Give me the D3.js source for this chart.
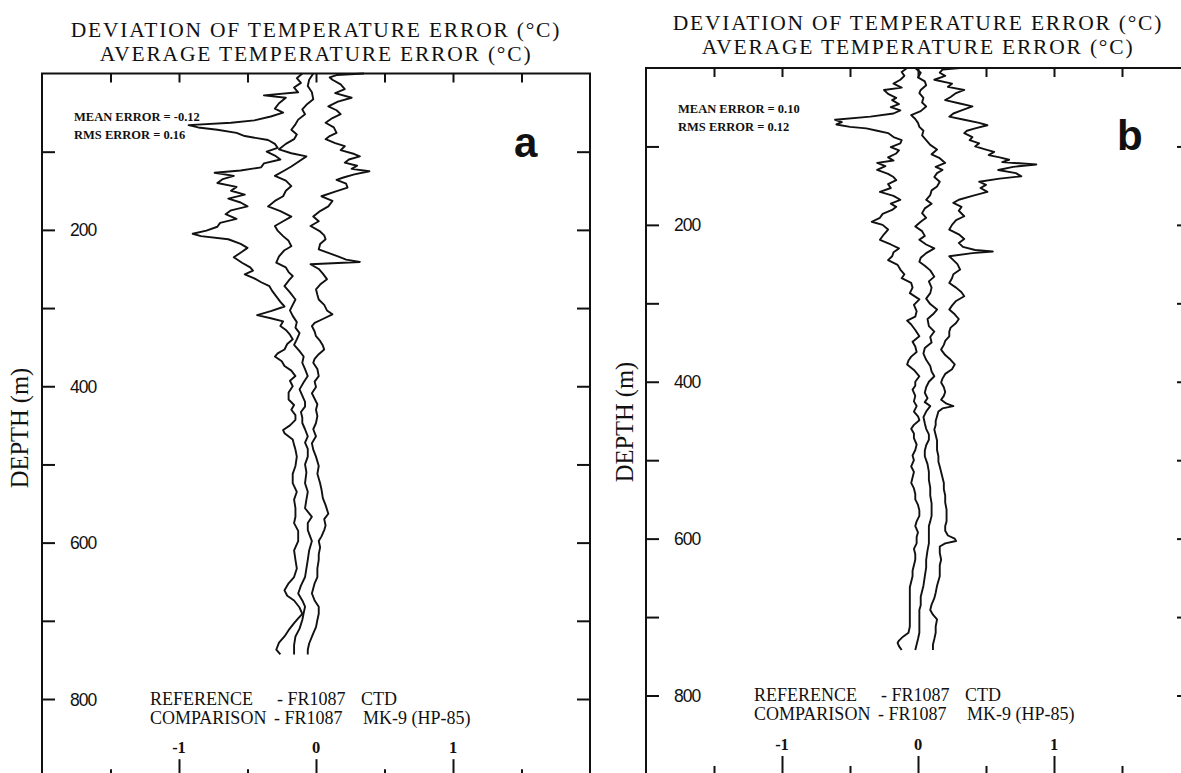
<!DOCTYPE html>
<html><head><meta charset="utf-8">
<script src="https://cdn.jsdelivr.net/npm/d3@7"></script>
<style>body{margin:0;background:#fff}svg{display:block}</style>
</head><body><svg id="c" width="1181" height="773"></svg>
<script>
// ---------------- DATA ----------------
const titleLines = ["DEVIATION OF TEMPERATURE ERROR (\u00B0C)", "AVERAGE TEMPERATURE ERROR (\u00B0C)"];
const yAxisTitle = "DEPTH (m)";
const depthLabels = [200, 400, 600, 800];
const depthTicks = [100, 200, 300, 400, 500, 600, 700, 800, 900];
const xLabels = [-1, 0, 1];
const xTicks = [-1.5, -1, -0.5, 0, 0.5, 1, 1.5];
const panelLetters = ["a", "b"];
const meanErrors = ["MEAN ERROR = -0.12", "MEAN ERROR = 0.10"];
const rmsErrors = ["RMS ERROR = 0.16", "RMS ERROR = 0.12"];
const refText = ["REFERENCE", "- FR1087", "CTD"];
const cmpText = ["COMPARISON", "- FR1087", "MK-9 (HP-85)"];

// [depth (m), temperature error (°C)]
const aLower = [[0,-0.10],[6,-0.14],[12,-0.11],[18,-0.16],[24,-0.13],[28,-0.38],[31,-0.22],[38,-0.27],[45,-0.30],[50,-0.24],[55,-0.33],[60,-0.45],[63,-0.62],[66,-0.93],[69,-0.86],[72,-0.72],[76,-0.58],[80,-0.52],[85,-0.35],[90,-0.30],[95,-0.28],[100,-0.36],[105,-0.30],[110,-0.26],[115,-0.38],[120,-0.40],[124,-0.55],[127,-0.74],[131,-0.60],[135,-0.68],[140,-0.72],[145,-0.58],[150,-0.62],[155,-0.52],[160,-0.64],[165,-0.55],[170,-0.50],[175,-0.62],[180,-0.66],[186,-0.58],[191,-0.70],[196,-0.72],[201,-0.80],[205,-0.90],[208,-0.84],[212,-0.64],[218,-0.55],[223,-0.50],[228,-0.54],[235,-0.60],[242,-0.54],[248,-0.48],[252,-0.46],[257,-0.52],[262,-0.45],[267,-0.40],[272,-0.34],[278,-0.32],[285,-0.29],[292,-0.26],[298,-0.23],[304,-0.33],[309,-0.43],[313,-0.33],[317,-0.24],[323,-0.26],[328,-0.22],[334,-0.19],[340,-0.17],[346,-0.21],[353,-0.23],[358,-0.28],[362,-0.30],[368,-0.25],[374,-0.23],[380,-0.18],[387,-0.15],[393,-0.19],[400,-0.17],[408,-0.20],[417,-0.20],[424,-0.16],[430,-0.18],[437,-0.15],[443,-0.15],[450,-0.19],[456,-0.24],[460,-0.23],[468,-0.17],[475,-0.16],[481,-0.15],[490,-0.14],[502,-0.15],[512,-0.17],[524,-0.17],[535,-0.14],[545,-0.16],[556,-0.15],[567,-0.15],[575,-0.16],[585,-0.13],[598,-0.13],[610,-0.16],[622,-0.15],[633,-0.14],[644,-0.16],[652,-0.20],[661,-0.23],[668,-0.21],[674,-0.16],[683,-0.12],[691,-0.10],[697,-0.13],[703,-0.16],[712,-0.20],[720,-0.23],[728,-0.27],[737,-0.29],[743,-0.26]];
const aMean = [[0,-0.02],[8,-0.05],[16,-0.06],[24,-0.03],[33,-0.02],[40,-0.07],[46,-0.10],[52,-0.08],[59,-0.13],[65,-0.15],[72,-0.18],[78,-0.14],[84,-0.16],[90,-0.22],[97,-0.27],[102,-0.18],[106,-0.07],[112,-0.12],[119,-0.18],[125,-0.24],[131,-0.30],[137,-0.22],[144,-0.18],[150,-0.22],[157,-0.24],[163,-0.30],[170,-0.35],[176,-0.26],[183,-0.18],[189,-0.24],[195,-0.30],[201,-0.28],[208,-0.24],[214,-0.20],[221,-0.18],[226,-0.23],[234,-0.27],[242,-0.29],[248,-0.22],[254,-0.20],[259,-0.17],[265,-0.20],[272,-0.23],[280,-0.19],[289,-0.15],[296,-0.17],[303,-0.19],[310,-0.17],[318,-0.14],[325,-0.15],[332,-0.12],[340,-0.14],[347,-0.16],[355,-0.12],[362,-0.09],[370,-0.10],[378,-0.08],[387,-0.06],[395,-0.09],[404,-0.12],[412,-0.10],[420,-0.08],[426,-0.08],[433,-0.11],[440,-0.10],[447,-0.10],[455,-0.08],[464,-0.06],[472,-0.08],[480,-0.06],[490,-0.06],[500,-0.08],[510,-0.07],[524,-0.08],[535,-0.06],[545,-0.07],[556,-0.08],[567,-0.03],[575,-0.06],[584,-0.06],[598,-0.03],[610,-0.05],[622,-0.06],[633,-0.07],[644,-0.08],[655,-0.11],[665,-0.13],[674,-0.10],[682,-0.08],[690,-0.09],[699,-0.10],[710,-0.12],[720,-0.15],[731,-0.16],[743,-0.16]];
const aUpper = [[0,0.35],[2,0.15],[5,0.10],[8,0.12],[14,0.18],[20,0.21],[25,0.14],[31,0.26],[36,0.16],[42,0.09],[47,0.15],[52,0.18],[57,0.12],[63,0.07],[69,0.13],[76,0.15],[80,0.10],[84,0.07],[89,0.14],[93,0.21],[98,0.18],[103,0.28],[106,0.32],[110,0.24],[114,0.21],[118,0.30],[122,0.26],[125,0.39],[129,0.28],[133,0.20],[136,0.15],[141,0.22],[146,0.23],[151,0.14],[157,0.04],[163,0.12],[170,0.09],[176,0.03],[183,-0.02],[189,0.02],[195,-0.04],[202,0.03],[207,0.06],[212,0.07],[218,0.03],[225,0.02],[230,0.10],[234,0.16],[238,0.22],[241,0.32],[244,-0.04],[250,0.02],[256,0.05],[263,0.08],[270,0.03],[276,0.00],[283,0.01],[289,0.02],[296,0.06],[303,0.08],[308,0.12],[314,0.05],[319,-0.01],[323,-0.03],[330,-0.01],[336,0.00],[342,0.03],[348,0.05],[353,0.06],[359,0.02],[365,-0.01],[370,-0.02],[378,0.01],[387,0.02],[394,-0.01],[401,0.00],[409,-0.03],[416,-0.01],[423,0.01],[430,0.00],[438,0.01],[447,0.00],[455,-0.02],[464,0.00],[473,-0.03],[481,-0.02],[490,0.00],[502,0.02],[512,0.01],[524,0.03],[532,0.04],[543,0.05],[552,0.07],[563,0.09],[570,0.06],[578,0.07],[584,0.06],[592,0.04],[598,0.02],[606,0.03],[615,0.02],[622,0.02],[633,0.01],[644,0.01],[652,-0.01],[665,-0.03],[674,-0.01],[682,0.02],[691,0.02],[699,0.01],[708,0.00],[716,-0.02],[729,-0.05],[737,-0.06],[743,-0.06]];

const bLower = [[0,-0.08],[5,-0.12],[10,-0.10],[15,-0.13],[20,-0.18],[25,-0.12],[28,-0.25],[33,-0.22],[38,-0.16],[41,-0.19],[46,-0.14],[50,-0.20],[54,-0.13],[58,-0.18],[62,-0.35],[66,-0.61],[69,-0.56],[72,-0.60],[75,-0.50],[77,-0.38],[80,-0.30],[83,-0.22],[88,-0.18],[92,-0.12],[96,-0.13],[101,-0.20],[105,-0.14],[109,-0.16],[114,-0.22],[118,-0.18],[121,-0.30],[125,-0.24],[130,-0.30],[135,-0.22],[139,-0.18],[143,-0.16],[148,-0.22],[153,-0.20],[158,-0.28],[163,-0.18],[168,-0.13],[173,-0.20],[177,-0.16],[181,-0.19],[186,-0.26],[191,-0.28],[196,-0.34],[200,-0.26],[206,-0.22],[212,-0.25],[219,-0.28],[225,-0.20],[230,-0.14],[235,-0.18],[240,-0.19],[245,-0.22],[251,-0.15],[257,-0.13],[263,-0.10],[268,-0.12],[274,-0.05],[280,-0.04],[287,-0.06],[295,0.01],[302,-0.03],[310,-0.01],[317,-0.02],[322,-0.08],[327,-0.05],[334,-0.02],[342,0.01],[349,-0.04],[355,-0.02],[362,-0.01],[368,-0.05],[373,-0.07],[378,-0.08],[385,-0.03],[393,0.01],[400,-0.02],[405,-0.02],[410,-0.04],[418,-0.02],[425,-0.03],[431,-0.01],[438,-0.03],[444,0.00],[449,0.01],[455,-0.03],[460,-0.05],[466,-0.03],[472,-0.03],[480,-0.01],[487,-0.02],[494,-0.04],[500,-0.03],[508,-0.05],[515,-0.03],[522,-0.04],[529,-0.05],[536,-0.03],[543,-0.02],[550,-0.02],[557,0.00],[564,0.01],[571,0.01],[578,-0.01],[584,-0.02],[592,0.00],[598,-0.01],[606,-0.01],[613,-0.03],[620,-0.02],[627,-0.02],[634,-0.03],[641,-0.04],[648,-0.04],[655,-0.05],[662,-0.06],[669,-0.06],[676,-0.06],[684,-0.06],[691,-0.06],[700,-0.06],[712,-0.06],[720,-0.07],[725,-0.11],[730,-0.14],[733,-0.15],[737,-0.14],[742,-0.12]];
const bMean = [[0,-0.02],[6,0.02],[12,0.00],[17,0.05],[22,0.06],[28,0.02],[32,0.01],[38,0.04],[44,0.03],[49,0.06],[55,0.02],[60,-0.05],[65,-0.02],[70,0.00],[75,0.01],[80,0.04],[86,0.03],[92,0.06],[98,0.09],[104,0.14],[110,0.10],[115,0.16],[121,0.20],[126,0.13],[130,0.18],[134,0.14],[139,0.12],[145,0.16],[151,0.14],[156,0.10],[162,0.09],[168,0.06],[173,0.10],[179,0.05],[185,0.03],[191,0.06],[196,0.02],[202,-0.02],[208,0.03],[214,0.05],[219,0.01],[225,0.06],[230,0.12],[236,0.06],[242,0.02],[247,0.01],[252,0.05],[258,0.09],[266,0.12],[272,0.08],[280,0.10],[287,0.09],[294,0.06],[301,0.09],[308,0.14],[314,0.11],[320,0.07],[329,0.08],[336,0.12],[343,0.09],[350,0.10],[357,0.05],[364,0.04],[372,0.06],[380,0.09],[387,0.10],[393,0.12],[400,0.08],[407,0.06],[414,0.05],[421,0.07],[426,0.05],[431,0.09],[438,0.06],[445,0.04],[453,0.05],[460,0.06],[467,0.08],[474,0.08],[481,0.06],[488,0.05],[495,0.05],[505,0.07],[515,0.08],[525,0.08],[535,0.09],[545,0.09],[555,0.10],[563,0.10],[571,0.10],[578,0.09],[584,0.08],[595,0.08],[606,0.08],[615,0.07],[627,0.06],[637,0.06],[648,0.05],[660,0.04],[674,0.02],[685,0.02],[691,0.01],[700,0.01],[712,0.01],[720,0.01],[728,0.00],[735,-0.01],[742,-0.02]];
const bUpper = [[0,0.31],[2,0.18],[6,0.16],[10,0.20],[15,0.12],[20,0.25],[24,0.22],[28,0.34],[32,0.28],[37,0.24],[41,0.20],[45,0.30],[49,0.40],[54,0.32],[58,0.26],[62,0.23],[66,0.34],[70,0.45],[73,0.51],[77,0.42],[80,0.36],[83,0.34],[88,0.40],[92,0.38],[96,0.45],[100,0.42],[104,0.50],[107,0.56],[111,0.52],[114,0.60],[117,0.67],[120,0.62],[123,0.87],[126,0.70],[130,0.59],[134,0.72],[138,0.76],[141,0.60],[145,0.45],[149,0.50],[153,0.46],[158,0.51],[163,0.40],[168,0.30],[172,0.26],[177,0.32],[182,0.30],[189,0.34],[194,0.28],[200,0.25],[206,0.23],[212,0.30],[218,0.34],[223,0.30],[228,0.33],[232,0.42],[234,0.55],[236,0.40],[240,0.23],[245,0.26],[250,0.29],[257,0.31],[263,0.26],[268,0.25],[274,0.23],[280,0.28],[286,0.32],[291,0.34],[297,0.28],[303,0.25],[308,0.23],[314,0.27],[320,0.30],[325,0.28],[331,0.24],[336,0.23],[342,0.23],[348,0.20],[353,0.19],[359,0.17],[366,0.20],[372,0.24],[378,0.27],[384,0.25],[390,0.20],[396,0.18],[401,0.17],[407,0.19],[413,0.20],[418,0.19],[423,0.17],[428,0.21],[431,0.26],[434,0.18],[438,0.15],[444,0.14],[450,0.13],[455,0.13],[461,0.12],[468,0.13],[475,0.14],[481,0.14],[487,0.14],[495,0.15],[502,0.15],[508,0.16],[515,0.17],[522,0.18],[529,0.19],[537,0.19],[545,0.20],[554,0.20],[563,0.21],[571,0.21],[578,0.21],[584,0.20],[590,0.20],[596,0.22],[600,0.27],[603,0.28],[606,0.20],[610,0.16],[618,0.16],[627,0.17],[634,0.16],[648,0.16],[660,0.14],[669,0.13],[676,0.12],[684,0.10],[691,0.09],[697,0.11],[703,0.14],[712,0.13],[720,0.13],[728,0.12],[735,0.11],[742,0.11]];

// ---------------- LAYOUT ----------------
const layouts = [
  {left:42, right:590, top:73.5, y800:699, t1:37, lineGap:24, ylabX:28, ylabY:428, statY:121, letX:514, letY:157, refY:705, xlabY:753},
  {left:646, right:1190, top:68, y800:695.5, t1:30, lineGap:24, ylabX:633, ylabY:422, statY:113, letX:1117, letY:150, refY:701, xlabY:750}
];
const series = [[aLower, aMean, aUpper], [bLower, bMean, bUpper]];

const svg = d3.select("#c");
const serif = "'Liberation Serif','Times New Roman',serif";
const sans = "'Liberation Sans',Arial,sans-serif";
const ink = "#111";

layouts.forEach((L, i) => {
  const x = d3.scaleLinear().domain([-2, 2]).range([L.left, L.right]);
  const y = d3.scaleLinear().domain([0, 800]).range([L.top, L.y800]);
  const g = svg.append("g");
  const bottom = y(900);
  const cx = x(0);

  // frame
  g.append("path")
    .attr("d", `M${L.left},${bottom}V${L.top}H${L.right}V${bottom}H${L.left}`)
    .attr("fill", "none").attr("stroke", ink).attr("stroke-width", 2);

  const strip = sel => { sel.select(".domain").remove(); sel.selectAll("text").remove(); sel.selectAll("line").attr("stroke", ink).attr("stroke-width", 2); };
  g.append("g").attr("transform", `translate(0,${L.top})`)
    .call(d3.axisBottom(x).tickValues(xTicks).tickSize(9).tickFormat("")).call(strip);
  g.append("g").attr("transform", `translate(0,${bottom})`)
    .call(d3.axisTop(x).tickValues(xLabels).tickSize(18).tickFormat("")).call(strip);
  g.append("g").attr("transform", `translate(0,${bottom})`)
    .call(d3.axisTop(x).tickValues(xTicks.filter(v => !xLabels.includes(v))).tickSize(8).tickFormat("")).call(strip);
  g.append("g").attr("transform", `translate(${L.left},0)`)
    .call(d3.axisRight(y).tickValues(depthTicks).tickSize(13).tickFormat("")).call(strip);
  g.append("g").attr("transform", `translate(${L.right},0)`)
    .call(d3.axisLeft(y).tickValues(depthTicks).tickSize(13).tickFormat("")).call(strip);

  // depth labels
  g.selectAll("text.dl").data(depthLabels).join("text")
    .attr("x", L.left + 28).attr("y", d => y(d) + 6.5)
    .attr("font-family", sans).attr("font-size", 17.5).attr("letter-spacing", -1)
    .attr("fill", ink).text(d => d);

  // x labels
  g.selectAll("text.xl").data(xLabels).join("text")
    .attr("x", d => x(d)).attr("y", L.xlabY).attr("text-anchor", "middle")
    .attr("font-family", serif).attr("font-weight", "bold").attr("font-size", 16.5)
    .attr("fill", ink).text(d => d === -1 ? "-1" : d);

  // two-line title
  titleLines.forEach((t, k) => g.append("text").attr("x", cx).attr("y", L.t1 + k * L.lineGap)
    .attr("text-anchor", "middle").attr("font-family", serif).attr("font-size", 21.5)
    .attr("letter-spacing", 1.8).attr("fill", ink).text(t));

  // y axis title
  g.append("text").attr("transform", `translate(${L.ylabX},${L.ylabY}) rotate(-90)`)
    .attr("text-anchor", "middle").attr("font-family", serif).attr("font-size", 24.5)
    .attr("fill", ink).text(yAxisTitle);

  // stats
  g.append("text").attr("x", L.left + 32).attr("y", L.statY)
    .attr("font-family", serif).attr("font-weight", "bold").attr("font-size", 12.5)
    .attr("fill", ink).text(meanErrors[i]);
  g.append("text").attr("x", L.left + 32).attr("y", L.statY + 18)
    .attr("font-family", serif).attr("font-weight", "bold").attr("font-size", 12.5)
    .attr("fill", ink).text(rmsErrors[i]);

  // panel letter
  g.append("text").attr("x", L.letX).attr("y", L.letY)
    .attr("font-family", sans).attr("font-weight", "bold").attr("font-size", 42)
    .attr("fill", ink).text(panelLetters[i]);

  // reference / comparison
  const rx = [L.left + 108, L.left + 235, L.left + 319];
  const rx2 = [L.left + 108, L.left + 232, L.left + 321];
  refText.forEach((t, k) => g.append("text").attr("x", rx[k]).attr("y", L.refY)
    .attr("font-family", serif).attr("font-size", 18).attr("fill", ink).text(t));
  cmpText.forEach((t, k) => g.append("text").attr("x", rx2[k]).attr("y", L.refY + 19)
    .attr("font-family", serif).attr("font-size", 18).attr("fill", ink).text(t));

  // profiles
  const line = d3.line().x(d => x(d[1])).y(d => y(d[0]));
  g.selectAll("path.prof").data(series[i]).join("path")
    .attr("class", "prof").attr("d", line)
    .attr("fill", "none").attr("stroke", ink).attr("stroke-width", 1.9)
    .attr("stroke-linejoin", "round");
});
</script></body></html>
